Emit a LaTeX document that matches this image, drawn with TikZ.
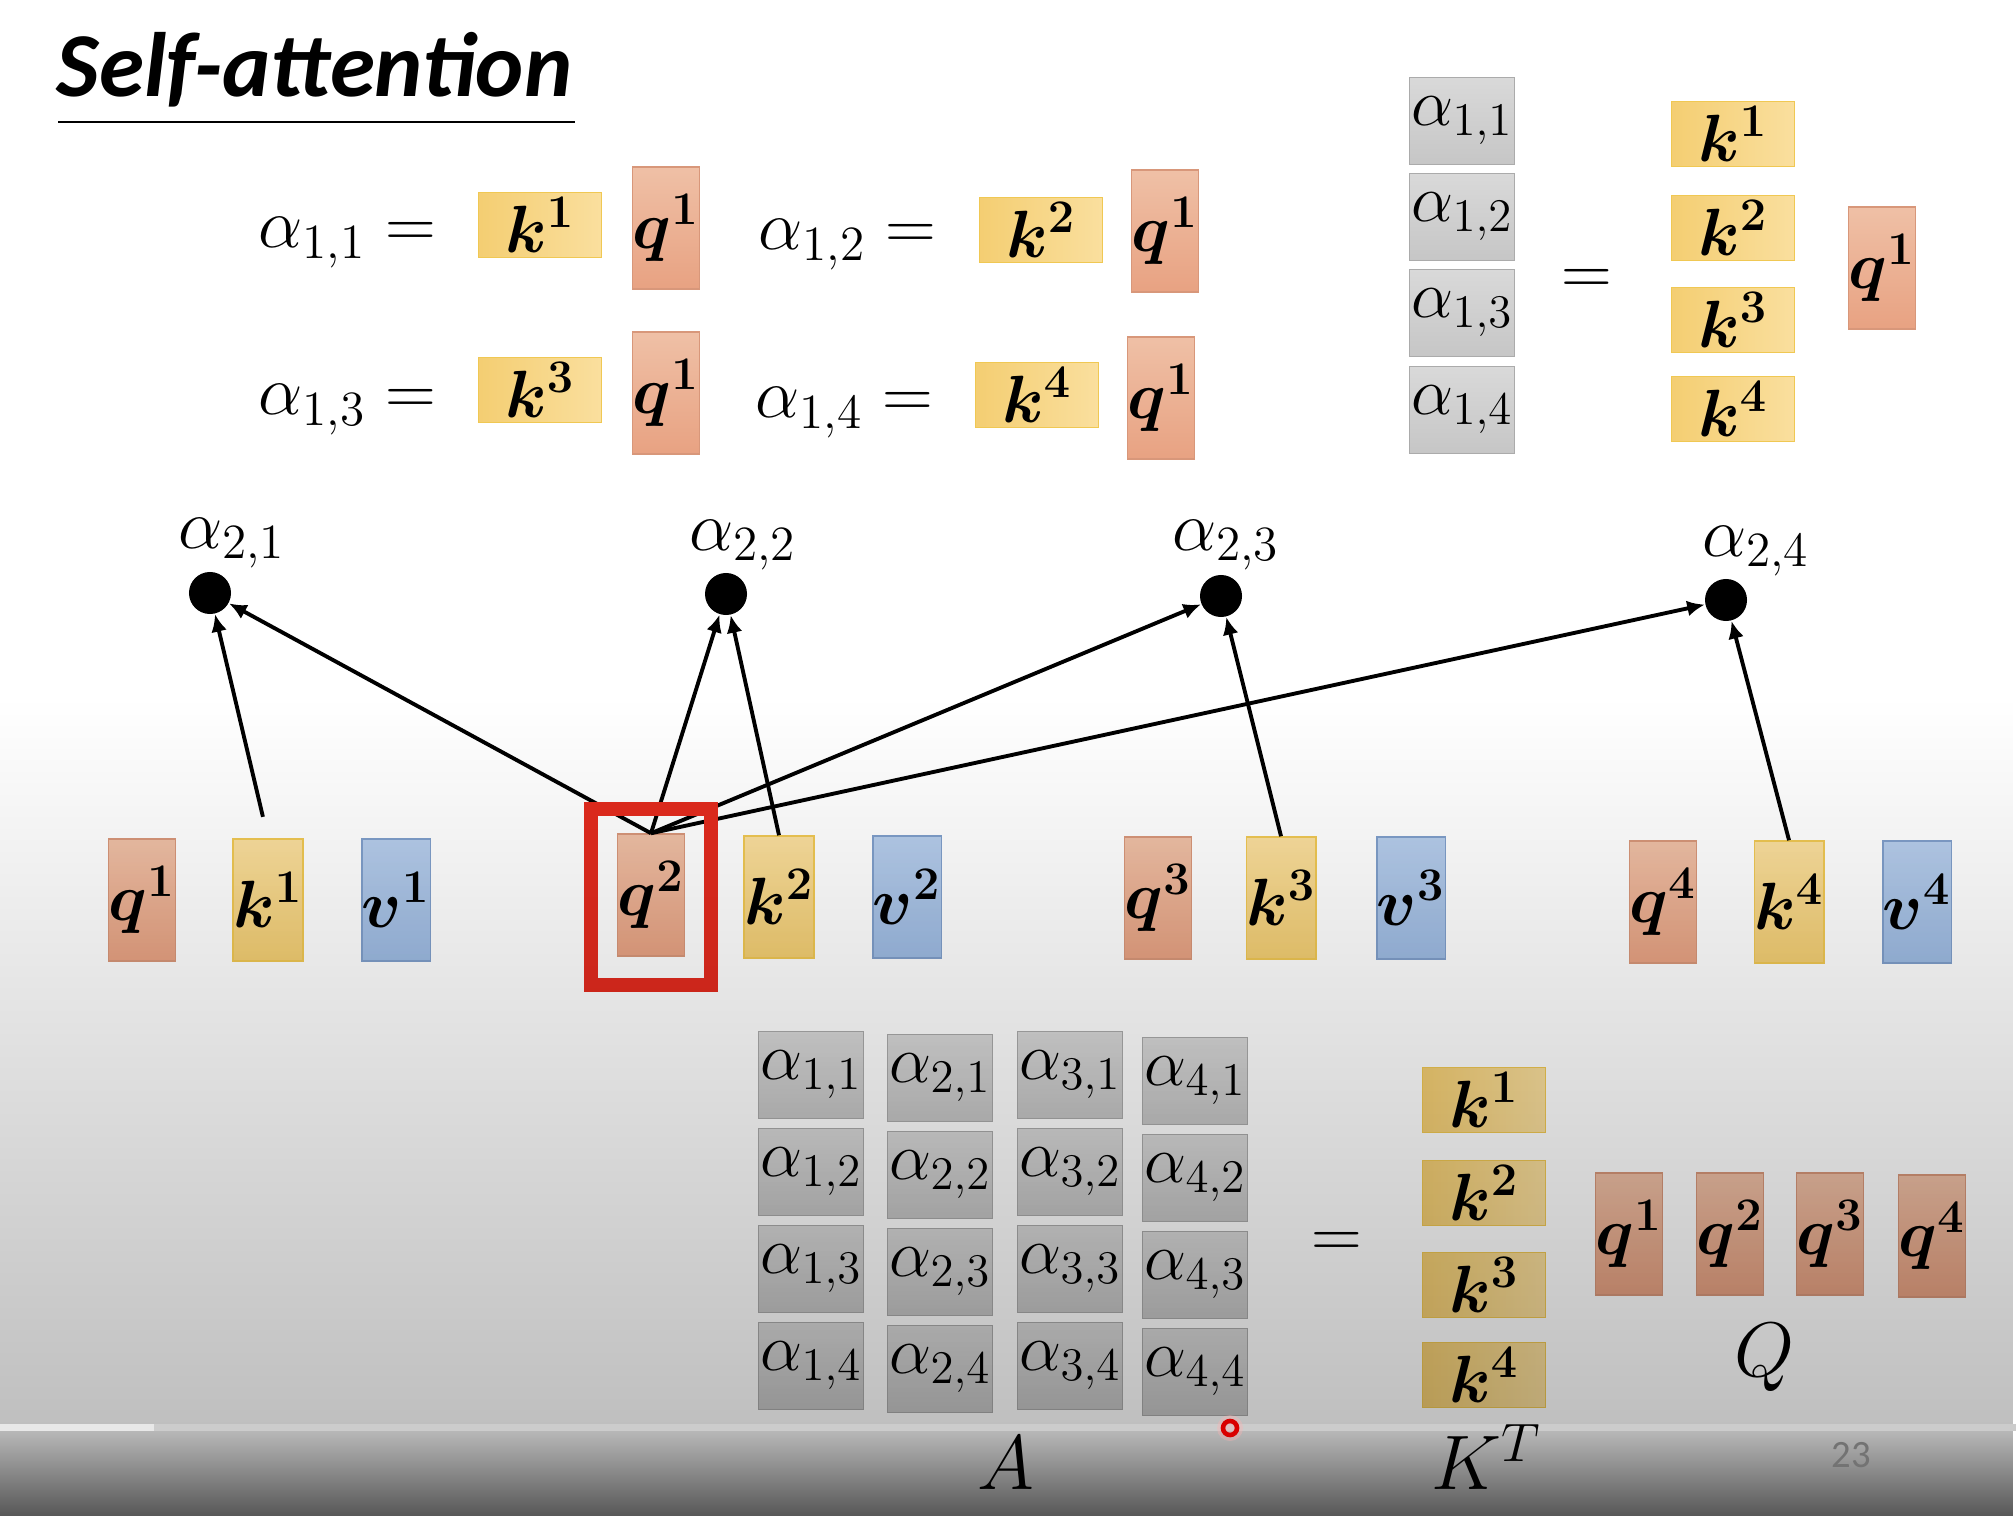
\RequirePackage{fix-cm}
\documentclass[tikz,border=0pt]{standalone}
\usepackage{amsmath}
\usepackage{bm}
\usepackage{fontspec}
\newfontfamily\slidefont{Carlito}
\usetikzlibrary{arrows.meta,fadings}

\definecolor{qtop}{HTML}{EFC0A6}
\definecolor{qbot}{HTML}{E8A282}
\definecolor{qline}{HTML}{D8977A}
\definecolor{ktop}{HTML}{FADF9E}
\definecolor{kbot}{HTML}{F4CE72}
\definecolor{kline}{HTML}{F0C853}
\definecolor{vtop}{HTML}{B6CDEB}
\definecolor{vbot}{HTML}{9DBBE3}
\definecolor{vline}{HTML}{809FCB}
\definecolor{atop}{HTML}{D9D9D9}
\definecolor{abot}{HTML}{C6C6C6}
\definecolor{aline}{HTML}{ABABAB}
\definecolor{selred}{HTML}{E32B1E}

\tikzfading[name=fadedown, top color=transparent!100, bottom color=transparent!0]
\tikzfading[name=fadebar, top color=transparent!72, bottom color=transparent!34]

\tikzset{
  mathtext/.style={inner sep=0pt, font=\fontsize{20}{24}\selectfont},
  boxtext/.style={inner sep=0pt, font=\fontsize{19}{22}\selectfont},
  qbox/.style={boxtext, draw=qline, top color=qtop, bottom color=qbot,
    minimum width=0.66cm, minimum height=1.22cm},
  kbox/.style={boxtext, draw=kline, top color=ktop, bottom color=kbot,
    minimum width=0.67cm, minimum height=1.22cm},
  vbox/.style={boxtext, draw=vline, top color=vtop, bottom color=vbot,
    minimum width=0.67cm, minimum height=1.22cm},
  kwide/.style={boxtext, draw=kline, left color=kbot, right color=ktop,
    minimum width=1.23cm, minimum height=0.65cm},
  abox/.style={inner sep=0pt, font=\fontsize{19}{22}\selectfont, draw=aline,
    top color=atop, bottom color=abot, minimum width=1.05cm, minimum height=0.87cm},
  dot/.style={circle, fill=black, minimum size=0.42cm, inner sep=0pt},
  link/.style={->, line width=1.1pt},
}

\begin{document}
\begin{tikzpicture}[x=0.01cm,y=-0.01cm,>={Latex[length=5pt,width=4.5pt]}]
    % Slide background
    \fill[white] (0,0) rectangle (2016,1516);
    \useasboundingbox (0,0) rectangle (2016,1516);

    % Title
    \node[anchor=base west, inner sep=0pt,
      font=\slidefont\bfseries\itshape\fontsize{26}{30}\selectfont] (title) at (56,97) {Self-attention};
    \draw[line width=0.6pt] (58,122) -- (575,122);

    % alpha_{1,i} written out one by one
    \node[mathtext, anchor=base east] (e11) at (437,248) {$\alpha_{1,1} =$};
    \node[kwide] (e11k) at (540,225) {$\bm{k^1}$};
    \node[qbox] (e11q) at (666,228) {$\bm{q^1}$};
    \node[mathtext, anchor=base east] (e12) at (937,250) {$\alpha_{1,2} =$};
    \node[kwide] (e12k) at (1041,230) {$\bm{k^2}$};
    \node[qbox] (e12q) at (1165,231) {$\bm{q^1}$};
    \node[mathtext, anchor=base east] (e13) at (437,415) {$\alpha_{1,3} =$};
    \node[kwide] (e13k) at (540,390) {$\bm{k^3}$};
    \node[qbox] (e13q) at (666,393) {$\bm{q^1}$};
    \node[mathtext, anchor=base east] (e14) at (934,418) {$\alpha_{1,4} =$};
    \node[kwide] (e14k) at (1037,395) {$\bm{k^4}$};
    \node[qbox] (e14q) at (1161,398) {$\bm{q^1}$};

    % Same thing as one column
    \node[abox] (c1) at (1462,121) {$\alpha_{1,1}$};
    \node[abox] (c2) at (1462,217) {$\alpha_{1,2}$};
    \node[abox] (c3) at (1462,313) {$\alpha_{1,3}$};
    \node[abox] (c4) at (1462,410) {$\alpha_{1,4}$};
    \node[mathtext] (ceq) at (1587,282) {$=$};
    \node[kwide] (ck1) at (1733,134) {$\bm{k^1}$};
    \node[kwide] (ck2) at (1733,228) {$\bm{k^2}$};
    \node[kwide] (ck3) at (1733,320) {$\bm{k^3}$};
    \node[kwide] (ck4) at (1733,409) {$\bm{k^4}$};
    \node[qbox] (cq) at (1882,268) {$\bm{q^1}$};

    % Attention scores of q^2
    \node[dot] (d21) at (210,593) {};
    \node[dot] (d22) at (726,594) {};
    \node[dot] (d23) at (1221,596) {};
    \node[dot] (d24) at (1726,600) {};
    \node[mathtext] (l21) at (232,543) {$\alpha_{2,1}$};
    \node[mathtext] (l22) at (743,545) {$\alpha_{2,2}$};
    \node[mathtext] (l23) at (1226,545) {$\alpha_{2,3}$};
    \node[mathtext] (l24) at (1756,551) {$\alpha_{2,4}$};

    % q, k, v of every input
    \node[qbox] (q1) at (142,900) {$\bm{q^1}$};
    \node[kbox] (k1) at (268,900) {$\bm{k^1}$};
    \node[vbox] (v1) at (396,900) {$\bm{v^1}$};
    \node[qbox] (q2) at (651,895) {$\bm{q^2}$};
    \node[kbox] (k2) at (779,897) {$\bm{k^2}$};
    \node[vbox] (v2) at (907,897) {$\bm{v^2}$};
    \node[qbox] (q3) at (1158,898) {$\bm{q^3}$};
    \node[kbox] (k3) at (1281,898) {$\bm{k^3}$};
    \node[vbox] (v3) at (1411,898) {$\bm{v^3}$};
    \node[qbox] (q4) at (1663,902) {$\bm{q^4}$};
    \node[kbox] (k4) at (1789,902) {$\bm{k^4}$};
    \node[vbox] (v4) at (1917,902) {$\bm{v^4}$};

    % Arrows into the scores
    \draw[link, shorten <=0.22cm] (k1.north) -- (d21);
    \draw[link] (q2.north) -- (d21);
    \draw[link] (q2.north) -- (d22);
    \draw[link] (k2.north) -- (d22);
    \draw[link] (q2.north) -- (d23);
    \draw[link] (k3.north) -- (d23);
    \draw[link] (q2.north) -- (d24);
    \draw[link] (k4.north) -- (d24);

    % Highlight q^2
    \node[draw=selred, line width=0.14cm, minimum width=1.20cm, minimum height=1.76cm] (sel) at (651,897) {};

    % Matrix form A = K^T Q
    \node[abox] (a11) at (811,1075) {$\alpha_{1,1}$};
    \node[abox] (a21) at (940,1078) {$\alpha_{2,1}$};
    \node[abox] (a31) at (1070,1075) {$\alpha_{3,1}$};
    \node[abox] (a41) at (1195,1081) {$\alpha_{4,1}$};
    \node[abox] (a12) at (811,1172) {$\alpha_{1,2}$};
    \node[abox] (a22) at (940,1175) {$\alpha_{2,2}$};
    \node[abox] (a32) at (1070,1172) {$\alpha_{3,2}$};
    \node[abox] (a42) at (1195,1178) {$\alpha_{4,2}$};
    \node[abox] (a13) at (811,1269) {$\alpha_{1,3}$};
    \node[abox] (a23) at (940,1272) {$\alpha_{2,3}$};
    \node[abox] (a33) at (1070,1269) {$\alpha_{3,3}$};
    \node[abox] (a43) at (1195,1275) {$\alpha_{4,3}$};
    \node[abox] (a14) at (811,1366) {$\alpha_{1,4}$};
    \node[abox] (a24) at (940,1369) {$\alpha_{2,4}$};
    \node[abox] (a34) at (1070,1366) {$\alpha_{3,4}$};
    \node[abox] (a44) at (1195,1372) {$\alpha_{4,4}$};
    \node[mathtext] (meq) at (1337,1245) {$=$};
    \node[kwide] (mk1) at (1484,1100) {$\bm{k^1}$};
    \node[kwide] (mk2) at (1484,1193) {$\bm{k^2}$};
    \node[kwide] (mk3) at (1484,1285) {$\bm{k^3}$};
    \node[kwide] (mk4) at (1484,1375) {$\bm{k^4}$};
    \node[qbox] (mq1) at (1629,1234) {$\bm{q^1}$};
    \node[qbox] (mq2) at (1730,1234) {$\bm{q^2}$};
    \node[qbox] (mq3) at (1830,1234) {$\bm{q^3}$};
    \node[qbox] (mq4) at (1932,1236) {$\bm{q^4}$};
    \node[mathtext, font=\fontsize{22}{26}\selectfont] (lQ) at (1764,1358) {$Q$};

    % Player shadow over the bottom of the slide
    \fill[black, fill opacity=0.25, path fading=fadedown] (0,700) rectangle (2016,1424);
    \fill[black, path fading=fadebar] (0,1431) rectangle (2016,1516);
    \fill[black!20] (0,1424) rectangle (2016,1431);
    \fill[black!9] (0,1424) rectangle (154,1431);
    \fill[red!30, fill opacity=0.35] (1230,1428) circle (0.13cm);
    \draw[red!85!black, line width=1.3pt] (1230,1428) circle (0.07cm);

    \node[mathtext, font=\fontsize{22}{26}\selectfont] (lA) at (1006,1463) {$A$};
    \node[mathtext, font=\fontsize{22}{26}\selectfont] (lK) at (1487,1457) {$K^T$};
    \node[text=black!55, inner sep=0pt, font=\slidefont\fontsize{11}{13}\selectfont] (pg) at (1851,1455) {23};
\end{tikzpicture}
\end{document}
